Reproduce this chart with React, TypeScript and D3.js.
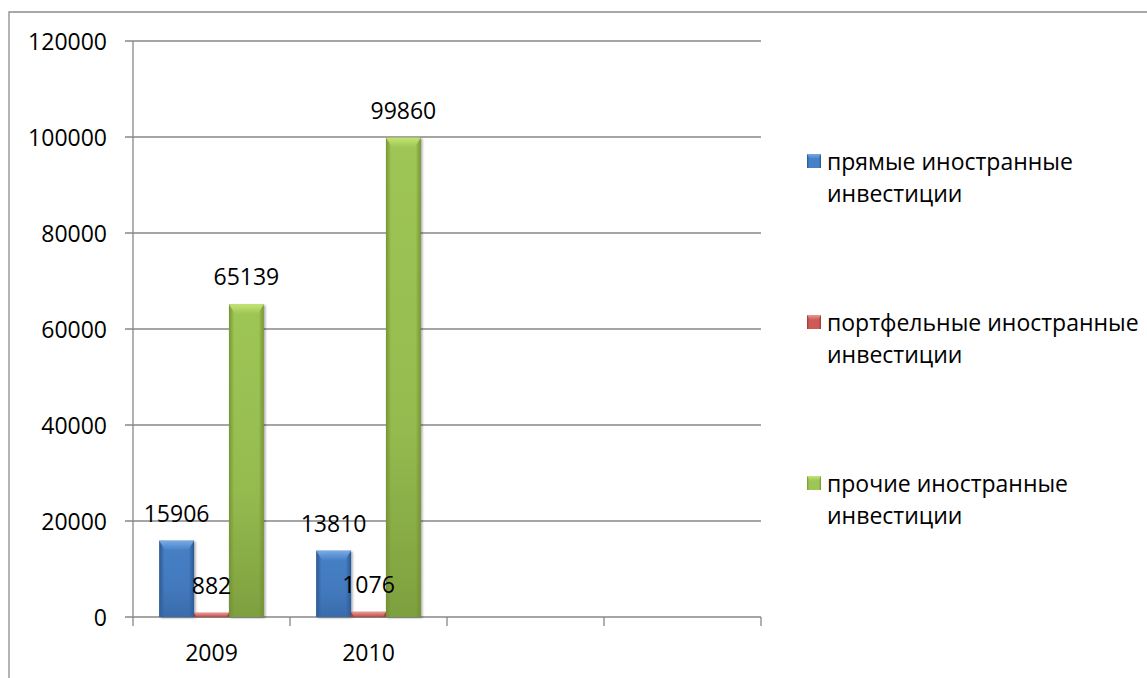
import React from "react";
import * as d3 from "d3";

const categories = ["2009", "2010", "", ""];
const seriesNames = [
  "прямые иностранные инвестиции",
  "портфельные иностранные инвестиции",
  "прочие иностранные инвестиции",
];
const legendLines = [
  ["прямые иностранные", "инвестиции"],
  ["портфельные иностранные", "инвестиции"],
  ["прочие иностранные", "инвестиции"],
];
const directValues = [15906, 13810];
const portfolioValues = [882, 1076];
const otherValues = [65139, 99860];
const yTicks = [0, 20000, 40000, 60000, 80000, 100000, 120000];

const seriesValues = [directValues, portfolioValues, otherValues];

const palette = [
  { id: "blue", edge: "#2a5590", mid: "#4680c6", top: "#78aae6", bottom: "#33629f" },
  { id: "red", edge: "#9c3532", mid: "#cd5a56", top: "#e89a97", bottom: "#b04643" },
  { id: "green", edge: "#769631", mid: "#9ec656", top: "#c4e472", bottom: "#718f35" },
];

const FONT = "'Open Sans', 'Noto Sans', sans-serif";
const FS = 23;

export default function App() {
  const width = 1147;
  const height = 678;
  const left = 133;
  const right = 761;
  const top = 41;
  const bottom = 617;

  const x = d3.scaleBand<number>().domain(d3.range(categories.length)).range([left, right]);
  const inner = d3
    .scaleBand<number>()
    .domain(d3.range(seriesNames.length))
    .range([0, x.bandwidth()])
    .paddingInner(0)
    .paddingOuter(0.75);
  const y = d3.scaleLinear().domain([0, 120000]).range([bottom, top]);

  const axisColor = "#878787";
  const bevel = 6;

  return (
    <svg width={width} height={height} style={{ display: "block", position: "absolute", left: 0, top: 0 }}>
      <defs>
        {palette.map((p) => (
          <React.Fragment key={p.id}>
            <linearGradient id={`h-${p.id}`} x1="0" x2="1" y1="0" y2="0">
              <stop offset="0" stopColor={p.edge} />
              <stop offset="0.15" stopColor={p.mid} />
              <stop offset="0.85" stopColor={p.mid} />
              <stop offset="1" stopColor={p.edge} />
            </linearGradient>
            <linearGradient id={`v-${p.id}`} x1="0" x2="0" y1="0" y2="1">
              <stop offset="0" stopColor={p.bottom} stopOpacity={0} />
              <stop offset="0.6" stopColor={p.bottom} stopOpacity={0.2} />
              <stop offset="1" stopColor={p.bottom} stopOpacity={0.7} />
            </linearGradient>
            <linearGradient id={`t-${p.id}`} x1="0" x2="0" y1="0" y2="1">
              <stop offset="0" stopColor={p.top} />
              <stop offset="1" stopColor={p.mid} />
            </linearGradient>
          </React.Fragment>
        ))}
        <filter id="shadow" x="-20%" y="-5%" width="140%" height="110%">
          <feDropShadow dx="1.5" dy="1" stdDeviation="1.2" floodColor="#000" floodOpacity="0.35" />
        </filter>
      </defs>

      {/* outer frame */}
      <path d={`M9,${height} V12 H${width}`} fill="none" stroke="#8c8c8c" strokeWidth={1.3} />

      {/* gridlines and y axis ticks */}
      {yTicks.map((t) => (
        <g key={t}>
          <line x1={left - 8} x2={right} y1={y(t)} y2={y(t)} stroke={axisColor} strokeWidth={1.3} />
          <text
            x={107}
            y={y(t)}
            textAnchor="end"
            dominantBaseline="central"
            fontFamily={FONT}
            fontSize={FS}
            fill="#000"
          >
            {t}
          </text>
        </g>
      ))}
      <line x1={left} x2={left} y1={top} y2={bottom} stroke={axisColor} strokeWidth={1.3} />

      {/* category ticks */}
      {d3.range(categories.length + 1).map((i) => {
        const xp = left + i * x.step();
        return <line key={i} x1={xp} x2={xp} y1={bottom} y2={bottom + 9} stroke={axisColor} strokeWidth={1.3} />;
      })}
      {categories.map((c, i) => (
        <text
          key={i}
          x={(x(i) ?? 0) + x.bandwidth() / 2}
          y={652}
          textAnchor="middle"
          dominantBaseline="central"
          fontFamily={FONT}
          fontSize={FS}
        >
          {c}
        </text>
      ))}

      {/* bars */}
      {seriesValues.map((vals, s) =>
        vals.map((v, i) => {
          const bx = (x(i) ?? 0) + (inner(s) ?? 0);
          const bw = inner.bandwidth();
          const by = y(v);
          const bh = bottom - by;
          const p = palette[s];
          const b = Math.min(bevel, bh / 2);
          return (
            <g key={`${s}-${i}`}>
              <g filter="url(#shadow)">
                <rect x={bx} y={by} width={bw} height={bh} fill={`url(#h-${p.id})`} />
              </g>
              <rect x={bx} y={by} width={bw} height={bh} fill={`url(#v-${p.id})`} />
              <path
                d={`M${bx},${by} H${bx + bw} L${bx + bw - b},${by + b * 1.6} H${bx + b} Z`}
                fill={`url(#t-${p.id})`}
              />
            </g>
          );
        })
      )}

      {/* value labels */}
      {seriesValues.map((vals, s) =>
        vals.map((v, i) => {
          const cx = (x(i) ?? 0) + (inner(s) ?? 0) + inner.bandwidth() / 2;
          return (
            <text
              key={`l-${s}-${i}`}
              x={cx}
              y={y(v) - 28}
              textAnchor="middle"
              dominantBaseline="central"
              fontFamily={FONT}
              fontSize={FS}
            >
              {v}
            </text>
          );
        })
      )}

      {/* legend */}
      {seriesNames.map((name, s) => {
        const cy = 161 + s * 161;
        const p = palette[s];
        return (
          <g key={name}>
            <rect x={807} y={cy - 7} width={14} height={14} fill={`url(#h-${p.id})`} />
            <path d={`M807,${cy - 7} H821 L818,${cy - 2} H810 Z`} fill={`url(#t-${p.id})`} />
            {legendLines[s].map((line, k) => (
              <text
                key={k}
                x={827}
                y={cy + k * 32}
                dominantBaseline="central"
                fontFamily={FONT}
                fontSize={FS}
              >
                {line}
              </text>
            ))}
          </g>
        );
      })}
    </svg>
  );
}
